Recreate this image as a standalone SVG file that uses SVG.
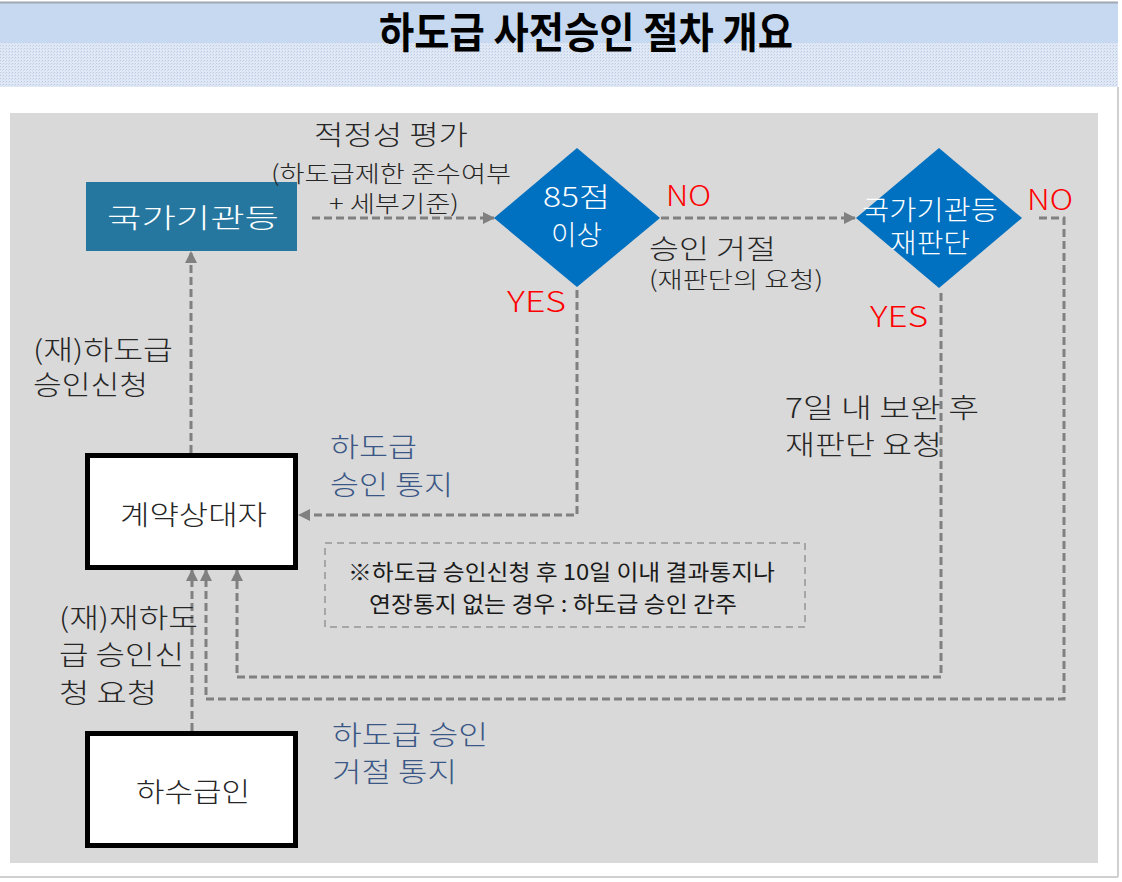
<svg xmlns="http://www.w3.org/2000/svg" width="1122" height="882" viewBox="0 0 1122 882">
<defs>
<pattern id="dots" width="3" height="3" patternUnits="userSpaceOnUse">
<rect width="3" height="3" fill="#dfe8f4"/>
<rect x="0" y="0" width="1" height="1" fill="#b9cbe4"/>
<rect x="2" y="1" width="1" height="1" fill="#cad9ec"/>
</pattern>
<marker id="arr" viewBox="0 0 12 12" refX="11" refY="6" markerWidth="12" markerHeight="12" markerUnits="userSpaceOnUse" orient="auto">
<path d="M0,0 L12,6 L0,12 Z" fill="#808080"/>
</marker>
<style>
text{font-family:"Noto Sans CJK KR","Noto Sans",sans-serif;font-weight:300;}
.t{fill:#262626;font-size:27px;}
.s{fill:#262626;font-size:23px;}
.b{fill:#3a5785;font-size:27px;}
.w{fill:#ffffff;font-size:27px;}
.r{fill:#ff0000;font-size:28px;}
.n{fill:#1a1a1a;font-size:22px;font-weight:400;}
.c{fill:none;stroke:#808080;stroke-width:3;stroke-dasharray:8 4;}
.box{fill:#ffffff;stroke:#000000;stroke-width:5;}
</style>
</defs>
<rect width="1122" height="882" fill="#ffffff"/>
<g id="header">
<rect x="0" y="2" width="1118" height="41" fill="#c6d9f0"/>
<rect x="0" y="43" width="1118" height="44" fill="url(#dots)"/>
<line x1="0" y1="2.5" x2="1118" y2="2.5" stroke="#a0a8b4" stroke-width="2"/>
<text x="379" y="48" font-size="42" style="font-weight:bold" fill="#000000" textLength="414" lengthAdjust="spacingAndGlyphs">하도급 사전승인 절차 개요</text>
</g>
<g id="frame">
<line x1="1118" y1="87" x2="1118" y2="877" stroke="#d0d0d0" stroke-width="2"/>
<line x1="0" y1="877" x2="1118" y2="877" stroke="#d0d0d0" stroke-width="2"/>
<rect x="10" y="113" width="1088" height="750" fill="#d9d9d9"/>
</g>
<g id="connectors">
<path class="c" d="M312,218 H494" marker-end="url(#arr)"/>
<path class="c" d="M191,453 V252" marker-end="url(#arr)"/>
<path class="c" d="M577,290 V515 H299" marker-end="url(#arr)"/>
<path class="c" d="M661,218 H855" marker-end="url(#arr)"/>
<path class="c" d="M941,293 V677 H237 V570" marker-end="url(#arr)"/>
<path class="c" d="M1039,218 H1064 V699 H206 V570" marker-end="url(#arr)"/>
<path class="c" d="M192,731 V570" marker-end="url(#arr)"/>
</g>
<g id="node-agency">
<rect x="86" y="182" width="211" height="69" fill="#2677a0"/>
<text class="w" x="107" y="228" font-size="33" textLength="172" lengthAdjust="spacingAndGlyphs">국가기관등</text>
</g>
<g id="node-decision1">
<polygon points="577,148 660,218 577,287 494,218" fill="#0070c0"/>
<text class="w" x="543" y="207" textLength="67" lengthAdjust="spacingAndGlyphs">85점</text>
<text class="w" x="551" y="245" textLength="51" lengthAdjust="spacingAndGlyphs">이상</text>
</g>
<g id="node-decision2">
<polygon points="939,148 1022,218 939,288 856,218" fill="#0070c0"/>
<text class="w" x="862" y="220" font-size="25" textLength="136" lengthAdjust="spacingAndGlyphs">국가기관등</text>
<text class="w" x="890" y="253" font-size="25" textLength="80" lengthAdjust="spacingAndGlyphs">재판단</text>
</g>
<g id="node-contractor">
<rect class="box" x="87.5" y="455.5" width="208" height="112"/>
<text class="t" x="120" y="525" textLength="147" lengthAdjust="spacingAndGlyphs">계약상대자</text>
</g>
<g id="node-subcontractor">
<rect class="box" x="87.5" y="733.5" width="208" height="112"/>
<text class="t" x="136" y="802" textLength="114" lengthAdjust="spacingAndGlyphs">하수급인</text>
</g>
<g id="note">
<rect x="325" y="543" width="480" height="84" fill="none" stroke="#a6a6a6" stroke-width="2" stroke-dasharray="7 5"/>
<text class="n" x="348" y="580" textLength="427" lengthAdjust="spacingAndGlyphs">※하도급 승인신청 후 10일 이내 결과통지나</text>
<text class="n" x="369" y="612" textLength="368" lengthAdjust="spacingAndGlyphs">연장통지 없는 경우 : 하도급 승인 간주</text>
</g>
<g id="labels">
<text class="t" x="314" y="145" font-size="26" textLength="154" lengthAdjust="spacingAndGlyphs">적정성 평가</text>
<text class="s" x="271" y="182" textLength="240" lengthAdjust="spacingAndGlyphs">(하도급제한 준수여부</text>
<text class="s" x="329" y="212" textLength="130" lengthAdjust="spacingAndGlyphs">+ 세부기준)</text>
<text class="r" x="666" y="206" textLength="45" lengthAdjust="spacingAndGlyphs">NO</text>
<text class="t" x="649" y="259" font-size="26" textLength="127" lengthAdjust="spacingAndGlyphs">승인 거절</text>
<text class="s" x="649" y="288" textLength="174" lengthAdjust="spacingAndGlyphs">(재판단의 요청)</text>
<text class="r" x="507" y="312" textLength="59" lengthAdjust="spacingAndGlyphs">YES</text>
<text class="r" x="1027" y="210" textLength="46" lengthAdjust="spacingAndGlyphs">NO</text>
<text class="r" x="870" y="327" textLength="58" lengthAdjust="spacingAndGlyphs">YES</text>
<text class="t" x="785" y="418" textLength="194" lengthAdjust="spacingAndGlyphs">7일 내 보완 후</text>
<text class="t" x="785" y="455" textLength="157" lengthAdjust="spacingAndGlyphs">재판단 요청</text>
<text class="t" x="33" y="360" textLength="140" lengthAdjust="spacingAndGlyphs">(재)하도급</text>
<text class="t" x="33" y="395" textLength="115" lengthAdjust="spacingAndGlyphs">승인신청</text>
<text class="b" x="330" y="457" textLength="87" lengthAdjust="spacingAndGlyphs">하도급</text>
<text class="b" x="330" y="495" textLength="123" lengthAdjust="spacingAndGlyphs">승인 통지</text>
<text class="t" x="59" y="628" textLength="139" lengthAdjust="spacingAndGlyphs">(재)재하도</text>
<text class="t" x="59" y="665" textLength="125" lengthAdjust="spacingAndGlyphs">급 승인신</text>
<text class="t" x="59" y="703" textLength="98" lengthAdjust="spacingAndGlyphs">청 요청</text>
<text class="b" x="332" y="745" textLength="156" lengthAdjust="spacingAndGlyphs">하도급 승인</text>
<text class="b" x="332" y="782" textLength="125" lengthAdjust="spacingAndGlyphs">거절 통지</text>
</g>
</svg>
